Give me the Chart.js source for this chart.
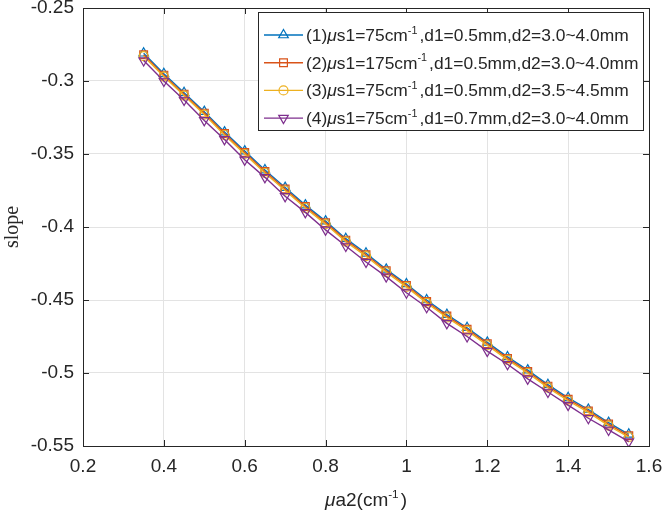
<!DOCTYPE html>
<html>
<head>
<meta charset="utf-8">
<script src="https://cdn.jsdelivr.net/npm/chart.js@4.4.1/dist/chart.umd.min.js"></script>
<style>
  html, body { margin: 0; padding: 0; background: #fff; }
  #wrap { width: 666px; height: 519px; }
</style>
</head>
<body>
<div id="wrap"><canvas id="c" width="666" height="519"></canvas></div>
<script>
// x values: mu_a2 (cm^-1)
const mua2 = [0.35, 0.40, 0.45, 0.50, 0.55, 0.60, 0.65, 0.70, 0.75, 0.80, 0.85, 0.90, 0.95,
              1.00, 1.05, 1.10, 1.15, 1.20, 1.25, 1.30, 1.35, 1.40, 1.45, 1.50, 1.55];

// slope per case
const slope1 = [-0.281, -0.295, -0.308, -0.321, -0.335, -0.348, -0.361, -0.373, -0.385, -0.396, -0.408, -0.418, -0.429,
                -0.439, -0.450, -0.460, -0.469, -0.479, -0.489, -0.498, -0.508, -0.517, -0.525, -0.534, -0.542];
const slope2 = [-0.282, -0.296, -0.309, -0.322, -0.336, -0.349, -0.362, -0.374, -0.386, -0.397, -0.409, -0.419, -0.430,
                -0.440, -0.451, -0.461, -0.470, -0.480, -0.490, -0.499, -0.509, -0.518, -0.526, -0.535, -0.543];
const slope3 = [-0.283, -0.297, -0.310, -0.323, -0.337, -0.350, -0.363, -0.375, -0.387, -0.398, -0.410, -0.420, -0.431,
                -0.441, -0.452, -0.462, -0.471, -0.481, -0.491, -0.500, -0.510, -0.519, -0.527, -0.536, -0.544];
const slope4 = [-0.286, -0.300, -0.313, -0.327, -0.340, -0.354, -0.366, -0.379, -0.390, -0.402, -0.413, -0.424, -0.434,
                -0.445, -0.455, -0.466, -0.475, -0.485, -0.494, -0.504, -0.513, -0.522, -0.531, -0.539, -0.547];

// legend pieces
const caseNo  = ["(1)", "(2)", "(3)", "(4)"];
const mus1    = ["75", "175", "75", "75"];
const d1mm    = ["0.5", "0.5", "0.5", "0.7"];
const d2mm    = ["3.0~4.0", "3.0~4.0", "3.5~4.5", "3.0~4.0"];

const xTickLabels = ["0.2", "0.4", "0.6", "0.8", "1", "1.2", "1.4", "1.6"];
const yTickLabels = ["-0.55", "-0.5", "-0.45", "-0.4", "-0.35", "-0.3", "-0.25"];

const colors  = ["#0072BD", "#D95319", "#EDB120", "#7E2F8E"];
const markers = ["triangle", "rect", "circle", "triangle"];
const rots    = [0, 0, 0, 180];
const radii   = [5.5, 5.5, 4.5, 5.5];

const FONT = "Liberation Sans, Arial, Helvetica, sans-serif";
const INK = "#262626";

const series = [slope1, slope2, slope3, slope4];
const datasets = series.map((s, i) => ({
  label: caseNo[i],
  data: mua2.map((x, j) => ({ x: x, y: s[j] })),
  borderColor: colors[i],
  backgroundColor: "rgba(0,0,0,0)",
  borderWidth: 1.4,
  pointStyle: markers[i],
  pointRotation: rots[i],
  pointRadius: radii[i],
  pointBorderWidth: 1.2,
  pointBorderColor: colors[i],
  pointBackgroundColor: "rgba(0,0,0,0)",
  order: 3 - i,
  tension: 0,
}));

// draw a run of text pieces; sup pieces are raised and smaller
function richText(ctx, x, y, parts, size) {
  parts.forEach(p => {
    const sz = p.sup ? size * 0.62 : size;
    ctx.font = (p.italic ? "italic " : "") + sz + "px " + FONT;
    ctx.fillText(p.t, x, p.sup ? y - size * 0.42 : y);
    x += ctx.measureText(p.t).width + (p.sup ? 2 : 0);
  });
  return x;
}
function richWidth(ctx, parts, size) {
  let w = 0;
  parts.forEach(p => {
    const sz = p.sup ? size * 0.62 : size;
    ctx.font = (p.italic ? "italic " : "") + sz + "px " + FONT;
    w += ctx.measureText(p.t).width + (p.sup ? 2 : 0);
  });
  return w;
}

const matlabLook = {
  id: "matlabLook",
  afterDraw(chart) {
    const ctx = chart.ctx, a = chart.chartArea;
    const xs = chart.scales.x, ys = chart.scales.y;
    ctx.save();
    // frame + inward ticks
    ctx.strokeStyle = INK; ctx.lineWidth = 1;
    ctx.strokeRect(Math.round(a.left) + 0.5, Math.round(a.top) + 0.5,
                   Math.round(a.right - a.left), Math.round(a.bottom - a.top));
    ctx.beginPath();
    xs.ticks.forEach(t => {
      const px = Math.round(xs.getPixelForValue(t.value)) + 0.5;
      ctx.moveTo(px, a.bottom); ctx.lineTo(px, a.bottom - 6);
      ctx.moveTo(px, a.top); ctx.lineTo(px, a.top + 6);
    });
    ys.ticks.forEach(t => {
      const py = Math.round(ys.getPixelForValue(t.value)) + 0.5;
      ctx.moveTo(a.left, py); ctx.lineTo(a.left + 6, py);
      ctx.moveTo(a.right, py); ctx.lineTo(a.right - 6, py);
    });
    ctx.stroke();

    // y label
    ctx.fillStyle = INK;
    ctx.save();
    ctx.translate(13, (a.top + a.bottom) / 2);
    ctx.rotate(-Math.PI / 2);
    ctx.font = "20px Liberation Serif, Times New Roman, serif";
    ctx.textAlign = "center"; ctx.textBaseline = "middle";
    ctx.fillText("slope", 0, 0);
    ctx.restore();

    // x label
    const xt = [{ t: "\u03bc", italic: true }, { t: "a2(cm" }, { t: "-1", sup: true }, { t: ")" }];
    ctx.textBaseline = "alphabetic"; ctx.textAlign = "left";
    const w = richWidth(ctx, xt, 19);
    richText(ctx, (a.left + a.right) / 2 - w / 2, 506, xt, 19);

    // legend box
    const lx = 258, ly = 12, lw = 385, lh = 118;
    ctx.fillStyle = "#fff";
    ctx.fillRect(lx, ly, lw, lh);
    ctx.strokeStyle = INK; ctx.lineWidth = 1;
    ctx.strokeRect(lx + 0.5, ly + 0.5, lw, lh);
    for (let i = 0; i < 4; i++) {
      const cy = 35 + i * 27.7;
      ctx.strokeStyle = colors[i]; ctx.lineWidth = 1.4;
      ctx.beginPath(); ctx.moveTo(264, cy); ctx.lineTo(303, cy); ctx.stroke();
      ctx.lineWidth = 1.2;
      ctx.fillStyle = "rgba(0,0,0,0)";
      Chart.helpers.drawPoint(ctx, { pointStyle: markers[i], rotation: rots[i], radius: radii[i], borderWidth: 1.2 }, 283.5, cy);
      ctx.fillStyle = INK;
      richText(ctx, 306, cy + 6, [
        { t: caseNo[i] }, { t: "\u03bc", italic: true }, { t: "s1=" + mus1[i] + "cm" },
        { t: "-1", sup: true }, { t: ",d1=" + d1mm[i] + "mm,d2=" + d2mm[i] + "mm" }
      ], 17.4);
    }
    ctx.restore();
  }
};

new Chart(document.getElementById("c"), {
  type: "line",
  data: { datasets: datasets },
  plugins: [matlabLook],
  options: {
    responsive: false,
    animation: false,
    layout: { padding: { left: 0, right: 17, top: 8, bottom: 0 } },
    plugins: { legend: { display: false }, tooltip: { enabled: false } },
    scales: {
      x: {
        type: "linear", min: 0.2, max: 1.6,
        ticks: { stepSize: 0.2, color: INK, font: { size: 19, family: FONT }, padding: 9,
                 maxRotation: 0, autoSkip: false, callback: (v, i) => xTickLabels[i] },
        grid: { color: "#e3e3e3", drawTicks: false },
        border: { display: false },
        afterFit: s => { s.height = 73; s.paddingLeft = 0; s.paddingRight = 0; },
      },
      y: {
        min: -0.55, max: -0.25,
        ticks: { stepSize: 0.05, color: INK, font: { size: 19, family: FONT }, padding: 9,
                 autoSkip: false, callback: (v, i) => yTickLabels[i] },
        grid: { color: "#e3e3e3", drawTicks: false },
        border: { display: false },
        afterFit: s => { s.width = 83; s.paddingTop = 0; s.paddingBottom = 0; },
      },
    },
  },
});
</script>
</body>
</html>
